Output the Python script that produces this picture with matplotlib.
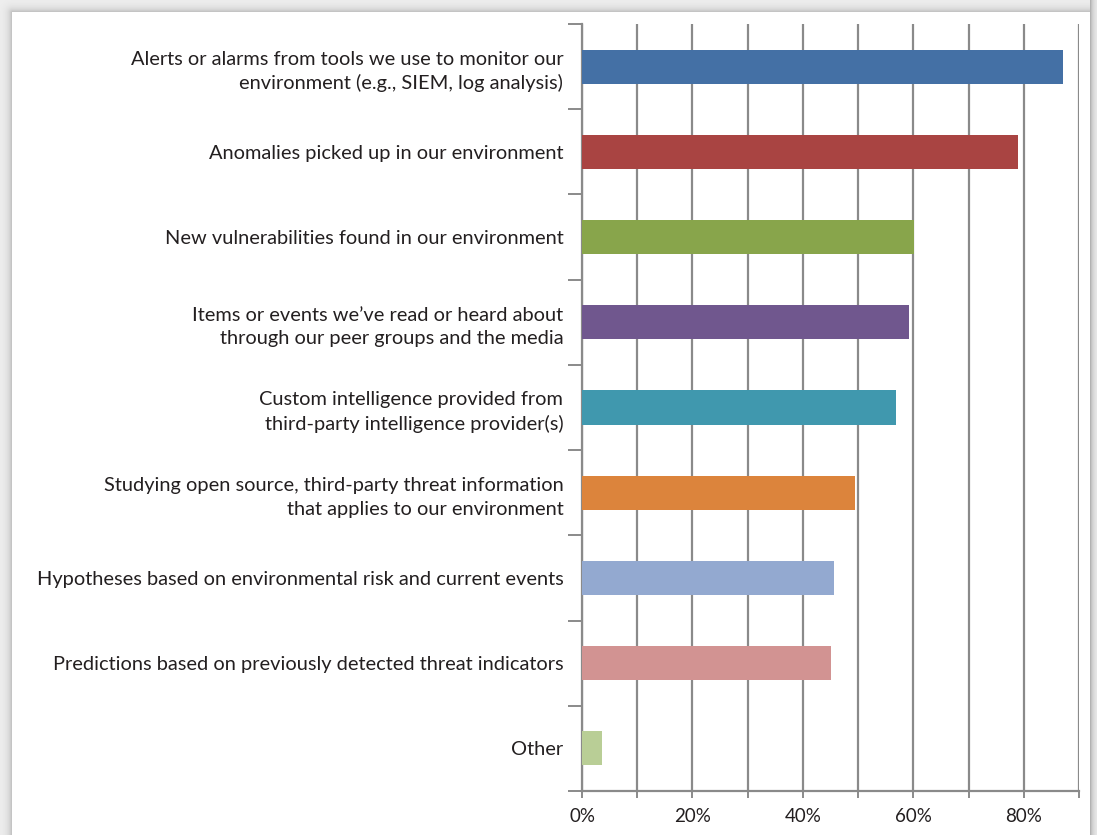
import numpy as np
import matplotlib
matplotlib.use("Agg")
import matplotlib.pyplot as plt
from matplotlib.ticker import FixedLocator, FuncFormatter

categories = [
    "Alerts or alarms from tools we use to monitor our\nenvironment (e.g., SIEM, log analysis)",
    "Anomalies picked up in our environment",
    "New vulnerabilities found in our environment",
    "Items or events we\u2019ve read or heard about\nthrough our peer groups and the media",
    "Custom intelligence provided from\nthird-party intelligence provider(s)",
    "Studying open source, third-party threat information\nthat applies to our environment",
    "Hypotheses based on environmental risk and current events",
    "Predictions based on previously detected threat indicators",
    "Other",
]
values = [87.1, 78.9, 60.1, 59.2, 56.9, 49.5, 45.6, 45.1, 3.6]
colors = ["#4470A5", "#A94442", "#88A54B", "#70578E", "#4098AE",
          "#DC843C", "#93A9D0", "#D29392", "#B9CE96"]
x_ticks = [0, 20, 40, 60, 80]

W, H = 1097, 835
fig = plt.figure(figsize=(W / 100, H / 100), dpi=100)

# page background with soft drop shadow
bg = fig.add_axes([0, 0, 1, 1])
bg.set_axis_off()
yy, xx = np.mgrid[0:H, 0:W]
px0, px1, py0 = 12, 1089, 12
dx = np.maximum(np.maximum(px0 - xx, xx - px1), 0)
dy = np.maximum(py0 - yy, 0)
d = np.hypot(dx, dy)
inside = (xx >= px0) & (xx <= px1) & (yy >= py0)
shade = 0.94 - 0.22 * np.exp(-d / 4.0)
right = xx > px1
shade = np.where(right, 0.93 - 0.32 * np.exp(-(xx - px1) / 3.0), shade)
shade = np.where(inside, 1.0, shade)
img = np.dstack([shade, shade, shade])
bg.imshow(img, extent=[0, W, H, 0], aspect="auto", interpolation="bilinear")
bg.set_xlim(0, W)
bg.set_ylim(H, 0)

left, rightx, top, bottom = 582, 1079, 24, 791
ax = fig.add_axes([left / W, 1 - bottom / H, (rightx - left) / W, (bottom - top) / H])
ax.set_facecolor("none")

pos = np.arange(len(categories))
ax.barh(pos, values, height=0.4, color=colors, zorder=3)

ax.set_xlim(0, 90)
ax.set_ylim(len(categories) - 0.5, -0.5)

grid_c = "#8a8a8a"
ax.xaxis.set_major_locator(FixedLocator(np.arange(0, 91, 10)))
ax.xaxis.set_major_formatter(FuncFormatter(lambda v, p: f"{int(v)}%" if int(v) in x_ticks else ""))
ax.grid(axis="x", color=grid_c, linewidth=1.6, zorder=1)
ax.tick_params(axis="x", length=5, width=1.4, color=grid_c, pad=7,
               labelsize=13.5, labelcolor="#231f20")

ax.set_yticks(pos)
ax.set_yticklabels(categories)
ax.set_yticks(np.arange(-0.5, len(categories), 1.0), minor=True)
ax.tick_params(axis="y", which="major", length=0, pad=13.5, labelsize=14.4,
               labelcolor="#231f20")
ax.tick_params(axis="y", which="minor", length=10, width=1.4, color=grid_c)

for s in ["top", "right"]:
    ax.spines[s].set_visible(False)
for s in ["left", "bottom"]:
    ax.spines[s].set_color(grid_c)
    ax.spines[s].set_linewidth(1.6)

for t in ax.get_yticklabels() + ax.get_xticklabels():
    t.set_fontfamily("Lato")
for t in ax.get_yticklabels():
    t.set_linespacing(1.45)

fig.savefig("out.png", dpi=100)
